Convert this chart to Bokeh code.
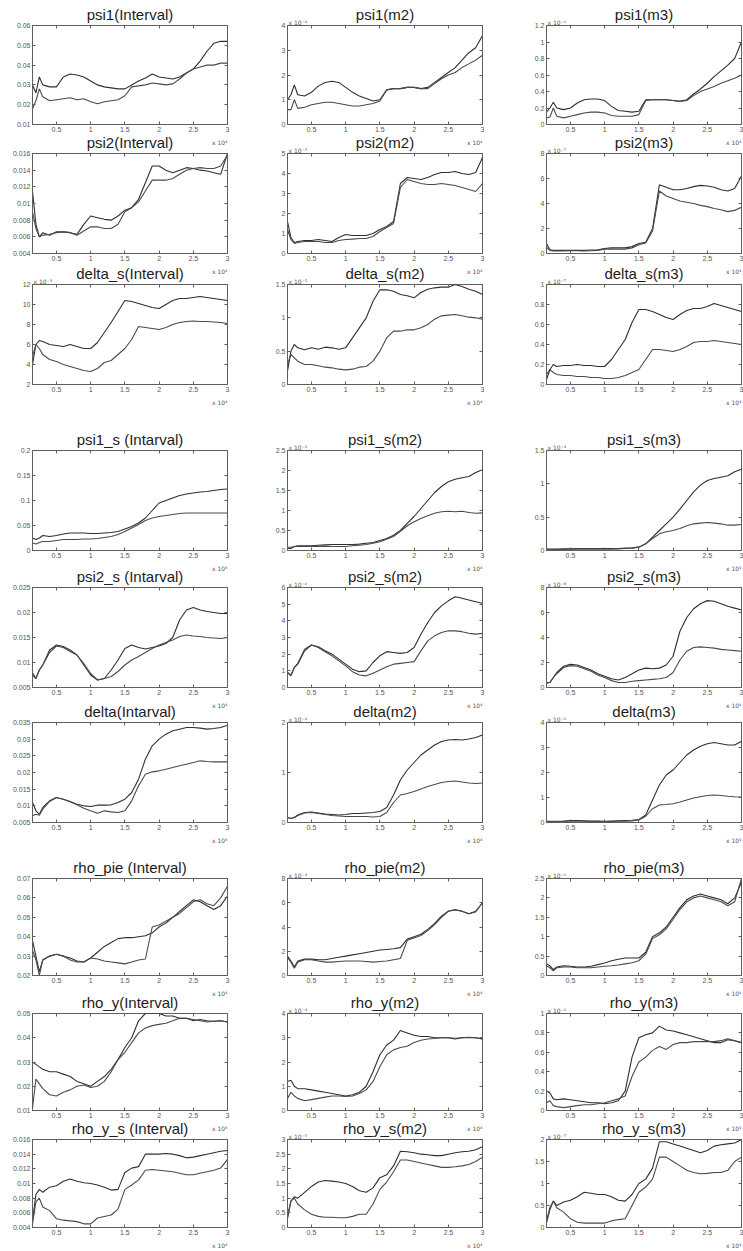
from bokeh.plotting import figure
from bokeh.models import (Range1d, FixedTicker, LinearAxis, Title,
                          CustomJSTickFormatter, GridBox)
from bokeh.embed import file_html
from bokeh.resources import INLINE

# Sample index, in units of 10^4 draws
X = [0.15, 0.2, 0.25, 0.3, 0.4, 0.5, 0.6, 0.7, 0.8, 0.9, 1.0, 1.1, 1.2, 1.3, 1.4,
     1.5, 1.6, 1.7, 1.8, 1.9, 2.0, 2.1, 2.2, 2.3, 2.4, 2.5, 2.6, 2.7, 2.8, 2.9, 3.0]
X_TICKS = [0.5, 1, 1.5, 2, 2.5, 3]

# ---- psi1 ----
psi1_int_a = [0.030, 0.026, 0.034, 0.030, 0.029, 0.029, 0.034, 0.0355, 0.035, 0.034, 0.032, 0.030, 0.029, 0.0285, 0.028, 0.028, 0.030, 0.032, 0.0335, 0.0355, 0.034, 0.0335, 0.033, 0.034, 0.036, 0.038, 0.042, 0.047, 0.051, 0.052, 0.052]
psi1_int_b = [0.018, 0.022, 0.028, 0.024, 0.022, 0.0225, 0.023, 0.0235, 0.0225, 0.023, 0.0215, 0.0205, 0.0215, 0.022, 0.0225, 0.0245, 0.029, 0.0295, 0.030, 0.031, 0.0305, 0.030, 0.0305, 0.033, 0.036, 0.038, 0.039, 0.040, 0.040, 0.041, 0.041]
psi1_m2_a = [1.0, 1.2, 1.6, 1.2, 1.15, 1.3, 1.55, 1.7, 1.75, 1.7, 1.5, 1.3, 1.15, 1.05, 0.95, 1.0, 1.4, 1.45, 1.45, 1.5, 1.5, 1.45, 1.5, 1.7, 1.9, 2.1, 2.3, 2.6, 2.9, 3.1, 3.6]
psi1_m2_b = [0.6, 0.6, 1.0, 0.65, 0.7, 0.8, 0.85, 0.9, 0.9, 0.85, 0.8, 0.75, 0.75, 0.8, 0.85, 0.95, 1.4, 1.45, 1.45, 1.5, 1.5, 1.45, 1.45, 1.65, 1.85, 2.0, 2.1, 2.3, 2.45, 2.6, 2.8]
psi1_m3_a = [0.15, 0.2, 0.27, 0.2, 0.18, 0.2, 0.26, 0.3, 0.31, 0.31, 0.29, 0.22, 0.17, 0.16, 0.15, 0.16, 0.3, 0.3, 0.3, 0.3, 0.29, 0.28, 0.3, 0.37, 0.43, 0.5, 0.58, 0.65, 0.72, 0.8, 1.0]
psi1_m3_b = [0.08, 0.09, 0.2, 0.1, 0.08, 0.1, 0.12, 0.14, 0.15, 0.15, 0.14, 0.11, 0.1, 0.1, 0.1, 0.12, 0.29, 0.3, 0.3, 0.3, 0.29, 0.28, 0.29, 0.35, 0.4, 0.43, 0.46, 0.5, 0.53, 0.56, 0.6]

# ---- psi2 ----
psi2_int_a = [0.0115, 0.0075, 0.006, 0.0065, 0.0062, 0.0066, 0.0066, 0.0065, 0.0063, 0.0075, 0.0085, 0.0083, 0.0081, 0.008, 0.0085, 0.0092, 0.0095, 0.0105, 0.0125, 0.0145, 0.0145, 0.014, 0.0137, 0.014, 0.0143, 0.0142, 0.014, 0.0139, 0.0137, 0.0135, 0.016]
psi2_int_b = [0.009, 0.007, 0.006, 0.0062, 0.0063, 0.0065, 0.0066, 0.0065, 0.0062, 0.0067, 0.0072, 0.0072, 0.007, 0.007, 0.0075, 0.009, 0.0095, 0.0102, 0.0115, 0.0128, 0.0128, 0.0128, 0.013, 0.0135, 0.014, 0.0142, 0.0143, 0.0142, 0.0142, 0.0145, 0.0158]
psi2_m2_a = [1.6, 0.8, 0.55, 0.6, 0.65, 0.65, 0.7, 0.65, 0.6, 0.8, 0.95, 0.9, 0.9, 0.9, 1.0, 1.2, 1.35, 1.6, 3.5, 3.8, 3.75, 3.7, 3.8, 3.95, 4.05, 4.05, 4.1, 4.0, 3.95, 4.05, 4.8]
psi2_m2_b = [1.2, 0.7, 0.5, 0.55, 0.6, 0.6, 0.6, 0.55, 0.55, 0.65, 0.7, 0.72, 0.75, 0.75, 0.85, 1.1, 1.3, 1.5, 3.3, 3.7, 3.6, 3.5, 3.45, 3.45, 3.5, 3.45, 3.4, 3.3, 3.2, 3.1, 3.5]
psi2_m3_a = [0.8, 0.3, 0.25, 0.25, 0.25, 0.25, 0.25, 0.25, 0.28, 0.3, 0.4, 0.45, 0.45, 0.45, 0.55, 0.8, 0.9, 2.0, 5.5, 5.3, 5.1, 5.1, 5.2, 5.35, 5.45, 5.4, 5.3, 5.1, 5.0, 5.2, 6.2]
psi2_m3_b = [0.5, 0.25, 0.2, 0.2, 0.2, 0.22, 0.22, 0.2, 0.22, 0.25, 0.35, 0.35, 0.35, 0.35, 0.45, 0.7, 0.85, 1.8, 5.0, 4.6, 4.4, 4.2, 4.1, 4.0, 3.85, 3.75, 3.6, 3.5, 3.35, 3.45, 3.7]

# ---- delta_s ----
dels_int_a = [4.0, 6.0, 6.4, 6.3, 6.0, 5.9, 5.8, 6.0, 5.8, 5.6, 5.6, 6.2, 7.2, 8.2, 9.3, 10.4, 10.3, 10.1, 9.9, 9.7, 9.6, 10.0, 10.4, 10.6, 10.6, 10.7, 10.8, 10.7, 10.6, 10.5, 10.4]
dels_int_b = [4.8, 6.0, 5.6, 5.0, 4.5, 4.3, 4.0, 3.8, 3.6, 3.4, 3.3, 3.6, 4.2, 4.4, 5.0, 5.6, 6.5, 7.8, 7.7, 7.6, 7.5, 7.7, 8.0, 8.2, 8.3, 8.35, 8.3, 8.3, 8.25, 8.2, 8.1]
dels_m2_a = [0.2, 0.5, 0.6, 0.55, 0.52, 0.55, 0.53, 0.56, 0.55, 0.53, 0.55, 0.7, 0.85, 1.0, 1.25, 1.42, 1.42, 1.4, 1.35, 1.33, 1.3, 1.38, 1.43, 1.45, 1.46, 1.46, 1.5, 1.47, 1.43, 1.4, 1.35]
dels_m2_b = [0.3, 0.45, 0.4, 0.35, 0.3, 0.3, 0.28, 0.26, 0.25, 0.23, 0.22, 0.23, 0.26, 0.27, 0.35, 0.5, 0.7, 0.8, 0.8, 0.82, 0.82, 0.85, 0.9, 0.98, 1.03, 1.04, 1.05, 1.03, 1.01, 1.0, 0.98]
dels_m3_a = [0.05, 0.15, 0.2, 0.18, 0.19, 0.19, 0.2, 0.19, 0.19, 0.18, 0.18, 0.25, 0.35, 0.45, 0.62, 0.75, 0.75, 0.73, 0.7, 0.67, 0.65, 0.7, 0.74, 0.76, 0.76, 0.78, 0.81, 0.79, 0.77, 0.75, 0.73]
dels_m3_b = [0.1, 0.15, 0.12, 0.1, 0.09, 0.09, 0.08, 0.08, 0.07, 0.07, 0.06, 0.06, 0.07, 0.09, 0.12, 0.15, 0.25, 0.35, 0.35, 0.34, 0.33, 0.35, 0.38, 0.42, 0.43, 0.43, 0.44, 0.43, 0.42, 0.41, 0.4]

# ---- psi1_s ----
psi1s_int_a = [0.025, 0.022, 0.025, 0.03, 0.028, 0.03, 0.033, 0.035, 0.035, 0.035, 0.034, 0.034, 0.035, 0.036, 0.038, 0.043, 0.048, 0.055, 0.065, 0.08, 0.095, 0.1, 0.105, 0.11, 0.113, 0.115, 0.117, 0.118, 0.12, 0.122, 0.123]
psi1s_int_b = [0.015, 0.013, 0.016, 0.018, 0.018, 0.02, 0.022, 0.022, 0.022, 0.023, 0.023, 0.024, 0.026, 0.028, 0.032, 0.038, 0.045, 0.052, 0.06, 0.065, 0.068, 0.07, 0.072, 0.074, 0.075, 0.075, 0.075, 0.075, 0.075, 0.075, 0.075]
psi1s_m2_a = [0.05, 0.05, 0.1, 0.12, 0.12, 0.12, 0.13, 0.14, 0.15, 0.15, 0.15, 0.15, 0.16, 0.18, 0.2, 0.25, 0.3, 0.38, 0.5, 0.68, 0.85, 1.05, 1.25, 1.45, 1.6, 1.72, 1.78, 1.82, 1.85, 1.95, 2.02]
psi1s_m2_b = [0.08, 0.08, 0.1, 0.1, 0.1, 0.1, 0.1, 0.11, 0.1, 0.1, 0.1, 0.12, 0.13, 0.15, 0.18, 0.22, 0.28, 0.35, 0.48, 0.62, 0.72, 0.8, 0.87, 0.93, 0.97, 0.98, 0.97, 0.98, 0.95, 0.93, 0.94]
psi1s_m3_a = [0.02, 0.02, 0.02, 0.02, 0.025, 0.025, 0.03, 0.03, 0.03, 0.03, 0.03, 0.03, 0.03, 0.035, 0.04, 0.05, 0.1, 0.2, 0.3, 0.4, 0.5, 0.62, 0.75, 0.88, 0.98, 1.05, 1.08, 1.1, 1.12, 1.18, 1.22]
psi1s_m3_b = [0.01, 0.01, 0.015, 0.015, 0.015, 0.02, 0.02, 0.02, 0.02, 0.02, 0.02, 0.02, 0.025, 0.03, 0.035, 0.05, 0.1, 0.18, 0.25, 0.28, 0.3, 0.33, 0.37, 0.4, 0.41, 0.42, 0.41, 0.4, 0.38, 0.38, 0.39]

# ---- psi2_s ----
psi2s_int_a = [0.0075, 0.0068, 0.0085, 0.0095, 0.0125, 0.0135, 0.0132, 0.0125, 0.0115, 0.0095, 0.0075, 0.0065, 0.0068, 0.0085, 0.0105, 0.0128, 0.0135, 0.013, 0.0127, 0.013, 0.0133, 0.0138, 0.015, 0.0185, 0.0205, 0.021, 0.0205, 0.0202, 0.02, 0.0198, 0.0198]
psi2s_int_b = [0.008, 0.0068, 0.0085, 0.0095, 0.012, 0.0133, 0.013, 0.0122, 0.0115, 0.0098, 0.0078, 0.0065, 0.0068, 0.0072, 0.0082, 0.0095, 0.0105, 0.0112, 0.012, 0.0128, 0.0135, 0.014, 0.0145, 0.0152, 0.0155, 0.0153, 0.0152, 0.015, 0.0149, 0.0148, 0.015]
psi2s_m2_a = [0.9, 0.75, 1.2, 1.4, 2.2, 2.55, 2.45, 2.2, 2.0, 1.7, 1.4, 1.1, 0.95, 1.0, 1.5, 1.9, 2.15, 2.1, 2.05, 2.1, 2.4, 3.2, 3.9, 4.5, 4.9, 5.2, 5.45, 5.35, 5.25, 5.15, 5.05]
psi2s_m2_b = [0.9, 0.7, 1.2, 1.45, 2.3, 2.55, 2.4, 2.15, 1.9, 1.6, 1.3, 0.95, 0.75, 0.7, 0.85, 1.05, 1.25, 1.4, 1.45, 1.5, 1.55, 2.2, 2.8, 3.1, 3.3, 3.4, 3.4, 3.35, 3.25, 3.2, 3.25]
psi2s_m3_a = [0.4, 0.4, 0.8, 1.2, 1.7, 1.85, 1.8, 1.6, 1.4, 1.1, 0.9, 0.7, 0.6, 0.8, 1.1, 1.4, 1.55, 1.5, 1.55, 1.8, 2.5, 4.5, 5.6, 6.3, 6.7, 6.95, 6.9, 6.7, 6.5, 6.35, 6.2]
psi2s_m3_b = [0.35, 0.4, 0.8, 1.1, 1.6, 1.75, 1.7, 1.5, 1.3, 1.0, 0.8, 0.55, 0.4, 0.4, 0.5, 0.55, 0.6, 0.65, 0.7, 0.8, 1.2, 2.2, 2.9, 3.2, 3.25, 3.2, 3.15, 3.05, 3.0, 2.95, 2.9]

# ---- delta ----
delta_int_a = [0.011, 0.0085, 0.0075, 0.0095, 0.0115, 0.0125, 0.012, 0.0113, 0.0105, 0.01, 0.0098, 0.0102, 0.0102, 0.0103, 0.011, 0.012, 0.014, 0.018, 0.024, 0.028, 0.03, 0.0315, 0.0325, 0.033, 0.0335, 0.0335, 0.0333, 0.033, 0.0332, 0.0335, 0.0342]
delta_int_b = [0.007, 0.0075, 0.0072, 0.009, 0.0113, 0.0125, 0.012, 0.0112, 0.0103, 0.0093, 0.0085, 0.0078, 0.0085, 0.0082, 0.008, 0.0085, 0.0115, 0.016, 0.0195, 0.0202, 0.0205, 0.021, 0.0215, 0.022, 0.0225, 0.023, 0.0235, 0.0233, 0.0232, 0.0232, 0.0232]
delta_m2_a = [0.1, 0.08, 0.1, 0.15, 0.2, 0.21, 0.19, 0.17, 0.16, 0.15, 0.16, 0.18, 0.18, 0.19, 0.2, 0.22, 0.3, 0.55, 0.85, 1.05, 1.2, 1.35, 1.45, 1.55, 1.62, 1.65, 1.66, 1.65, 1.67, 1.7, 1.75]
delta_m2_b = [0.1, 0.08, 0.1, 0.14, 0.19, 0.2, 0.18, 0.16, 0.14, 0.13, 0.12, 0.12, 0.12, 0.12, 0.11, 0.12, 0.2, 0.4, 0.55, 0.58, 0.62, 0.67, 0.72, 0.76, 0.8, 0.82, 0.83, 0.81, 0.79, 0.78, 0.79]
delta_m3_a = [0.05, 0.05, 0.05, 0.05, 0.06, 0.08, 0.08, 0.07, 0.06, 0.06, 0.05, 0.06, 0.07, 0.08, 0.09, 0.12, 0.3, 0.9, 1.5, 1.9, 2.1, 2.4, 2.7, 2.9, 3.05, 3.15, 3.2, 3.15, 3.1, 3.1, 3.25]
delta_m3_b = [0.03, 0.03, 0.03, 0.03, 0.04, 0.05, 0.05, 0.05, 0.04, 0.04, 0.04, 0.04, 0.05, 0.05, 0.06, 0.1, 0.25, 0.55, 0.7, 0.72, 0.75, 0.82, 0.9, 0.98, 1.03, 1.08, 1.1, 1.08, 1.05, 1.03, 1.02]

# ---- rho_pie ----
rhop_int_a = [0.038, 0.03, 0.022, 0.028, 0.03, 0.031, 0.03, 0.029, 0.0275, 0.027, 0.029, 0.032, 0.035, 0.037, 0.039, 0.0395, 0.0395, 0.04, 0.0405, 0.042, 0.045, 0.047, 0.05, 0.053, 0.056, 0.059, 0.058, 0.056, 0.054, 0.056, 0.061]
rhop_int_b = [0.033, 0.028, 0.02, 0.028, 0.03, 0.031, 0.03, 0.028, 0.027, 0.027, 0.029, 0.0285, 0.0275, 0.027, 0.0265, 0.026, 0.027, 0.028, 0.0285, 0.045, 0.046, 0.048, 0.05, 0.052, 0.055, 0.058, 0.059, 0.057, 0.056, 0.06, 0.066]
rhop_m2_a = [1.6, 1.2, 0.7, 1.2, 1.35, 1.35, 1.3, 1.3, 1.4, 1.5, 1.6, 1.7, 1.8, 1.9, 2.0, 2.1, 2.15, 2.2, 2.3, 3.0, 3.2, 3.4, 3.8, 4.3, 4.9, 5.3, 5.4, 5.3, 5.1, 5.3, 6.0]
rhop_m2_b = [1.5, 1.1, 0.6, 1.1, 1.3, 1.3, 1.2, 1.1, 1.1, 1.15, 1.2, 1.2, 1.2, 1.15, 1.1, 1.15, 1.2, 1.3, 1.4, 2.9, 3.1, 3.3, 3.7, 4.2, 4.8, 5.3, 5.45, 5.3, 5.1, 5.25, 6.0]
rhop_m3_a = [0.3, 0.25, 0.15, 0.22, 0.25, 0.24, 0.22, 0.22, 0.24, 0.28, 0.32, 0.38, 0.42, 0.45, 0.45, 0.45, 0.6, 1.0, 1.1, 1.25, 1.5, 1.75, 1.95, 2.05, 2.1, 2.05, 2.0, 1.95, 1.85, 2.0, 2.4]
rhop_m3_b = [0.25, 0.2, 0.12, 0.2, 0.22, 0.22, 0.2, 0.2, 0.2, 0.22, 0.24, 0.25, 0.27, 0.3, 0.33, 0.38, 0.55, 0.95, 1.05, 1.2, 1.45, 1.7, 1.9, 2.0, 2.05, 2.0, 1.95, 1.9, 1.8, 1.9, 2.5]

# ---- rho_y ----
rhoy_int_a = [0.03, 0.029, 0.028, 0.027, 0.026, 0.026, 0.025, 0.024, 0.022, 0.021, 0.02, 0.022, 0.024, 0.027, 0.031, 0.036, 0.04, 0.047, 0.05, 0.05, 0.05, 0.049, 0.049, 0.048, 0.048, 0.047, 0.0475, 0.047, 0.0468, 0.047, 0.0465]
rhoy_int_b = [0.011, 0.023, 0.021, 0.019, 0.0165, 0.016, 0.0175, 0.0185, 0.02, 0.0205, 0.0195, 0.02, 0.022, 0.026, 0.031, 0.034, 0.038, 0.042, 0.044, 0.045, 0.0455, 0.046, 0.047, 0.048, 0.048, 0.0475, 0.047, 0.0465, 0.0468, 0.047, 0.0465]
rhoy_m2_a = [1.2, 1.25, 1.0, 0.9, 0.9, 0.85, 0.8, 0.75, 0.7, 0.65, 0.6, 0.65, 0.75, 1.0, 1.6, 2.3, 2.7, 2.9, 3.3, 3.2, 3.1, 3.05, 3.05, 3.0, 3.0, 3.0, 2.95, 3.0, 3.0, 3.0, 2.95]
rhoy_m2_b = [0.5, 0.75, 0.6, 0.5, 0.4, 0.45, 0.5, 0.55, 0.6, 0.6, 0.58, 0.6, 0.7, 0.85, 1.2, 1.8, 2.3, 2.5, 2.6, 2.65, 2.8, 2.9, 2.95, 2.97, 3.0, 3.0, 2.98, 3.0, 3.02, 3.0, 2.95]
rhoy_m3_a = [0.2, 0.18, 0.12, 0.11, 0.12, 0.11, 0.1, 0.09, 0.08, 0.08, 0.07, 0.08, 0.1, 0.2, 0.55, 0.75, 0.78, 0.8, 0.87, 0.83, 0.82, 0.8, 0.78, 0.76, 0.74, 0.72, 0.7, 0.7, 0.73, 0.72, 0.7]
rhoy_m3_b = [0.08, 0.1, 0.05, 0.04, 0.03, 0.04, 0.05, 0.06, 0.06, 0.07, 0.08, 0.1, 0.12, 0.15, 0.35, 0.5, 0.55, 0.62, 0.66, 0.63, 0.68, 0.7, 0.7, 0.71, 0.71, 0.71, 0.71, 0.72, 0.74, 0.72, 0.7]

# ---- rho_y_s ----
rhoys_int_a = [0.005, 0.0085, 0.0092, 0.0088, 0.0095, 0.0097, 0.0103, 0.0106, 0.0103, 0.0101, 0.01, 0.0098, 0.0095, 0.0091, 0.0092, 0.0115, 0.0121, 0.0123, 0.014, 0.014, 0.014, 0.0141, 0.014, 0.0138, 0.0135, 0.0136, 0.0138, 0.014, 0.0142, 0.0144, 0.0145]
rhoys_int_b = [0.0045, 0.0075, 0.008, 0.0068, 0.0063, 0.0052, 0.005, 0.0049, 0.0048, 0.0045, 0.0045, 0.0053, 0.0055, 0.0057, 0.0065, 0.0092, 0.0098, 0.0105, 0.0118, 0.0119, 0.0118, 0.0117, 0.0116, 0.0114, 0.0112, 0.0112, 0.0114, 0.0116, 0.0118, 0.0121, 0.0133]
rhoys_m2_a = [0.3, 0.9, 1.05, 1.0, 1.2, 1.4, 1.55, 1.6, 1.58, 1.55, 1.5, 1.4, 1.25, 1.2, 1.35, 1.7, 1.8, 2.1, 2.6, 2.58, 2.55, 2.5, 2.48, 2.45, 2.45, 2.5, 2.55, 2.58, 2.6, 2.65, 2.75]
rhoys_m2_b = [0.4, 0.9, 1.0, 0.8, 0.6, 0.45, 0.38, 0.35, 0.35, 0.33, 0.33, 0.38, 0.45, 0.45, 0.8, 1.3, 1.55, 1.9, 2.3, 2.3, 2.25, 2.2, 2.15, 2.1, 2.05, 2.05, 2.07, 2.1, 2.15, 2.25, 2.4]
rhoys_m3_a = [0.15, 0.45, 0.6, 0.5, 0.58, 0.62, 0.7, 0.8, 0.78, 0.75, 0.75, 0.7, 0.62, 0.6, 0.75, 1.0, 1.1, 1.35, 1.95, 1.95, 1.9, 1.85, 1.8, 1.75, 1.7, 1.75, 1.85, 1.88, 1.9, 1.92, 2.0]
rhoys_m3_b = [0.1, 0.4, 0.6, 0.45, 0.35, 0.2, 0.12, 0.1, 0.1, 0.1, 0.1, 0.15, 0.18, 0.2, 0.5, 0.8, 0.92, 1.1, 1.6, 1.6, 1.5, 1.4, 1.3, 1.25, 1.22, 1.23, 1.25, 1.25, 1.3, 1.5, 1.6]

# (title, series A, series B, y tick values, power of ten of the y axis)
PANELS = [
    ("psi1(Interval)", psi1_int_a, psi1_int_b, [0.01, 0.02, 0.03, 0.04, 0.05, 0.06], None),
    ("psi1(m2)", psi1_m2_a, psi1_m2_b, [0, 1, 2, 3, 4], -4),
    ("psi1(m3)", psi1_m3_a, psi1_m3_b, [0, 0.2, 0.4, 0.6, 0.8, 1, 1.2], -6),
    ("psi2(Interval)", psi2_int_a, psi2_int_b, [0.004, 0.006, 0.008, 0.01, 0.012, 0.014, 0.016], None),
    ("psi2(m2)", psi2_m2_a, psi2_m2_b, [0, 1, 2, 3, 4, 5], -5),
    ("psi2(m3)", psi2_m3_a, psi2_m3_b, [0, 2, 4, 6, 8], -7),
    ("delta_s(Interval)", dels_int_a, dels_int_b, [2, 4, 6, 8, 10, 12], -3),
    ("delta_s(m2)", dels_m2_a, dels_m2_b, [0, 0.5, 1, 1.5], -5),
    ("delta_s(m3)", dels_m3_a, dels_m3_b, [0, 0.2, 0.4, 0.6, 0.8, 1], -7),
    ("psi1_s (Intarval)", psi1s_int_a, psi1s_int_b, [0, 0.05, 0.1, 0.15, 0.2], None),
    ("psi1_s(m2)", psi1s_m2_a, psi1s_m2_b, [0, 0.5, 1, 1.5, 2, 2.5], -3),
    ("psi1_s(m3)", psi1s_m3_a, psi1s_m3_b, [0, 0.5, 1, 1.5], -4),
    ("psi2_s (Intarval)", psi2s_int_a, psi2s_int_b, [0.005, 0.01, 0.015, 0.02, 0.025], None),
    ("psi2_s(m2)", psi2s_m2_a, psi2s_m2_b, [0, 1, 2, 3, 4, 5, 6], -6),
    ("psi2_s(m3)", psi2s_m3_a, psi2s_m3_b, [0, 2, 4, 6, 8], -8),
    ("delta(Intarval)", delta_int_a, delta_int_b, [0.005, 0.01, 0.015, 0.02, 0.025, 0.03, 0.035], None),
    ("delta(m2)", delta_m2_a, delta_m2_b, [0, 1, 2], -4),
    ("delta(m3)", delta_m3_a, delta_m3_b, [0, 1, 2, 3, 4], -6),
    ("rho_pie (Interval)", rhop_int_a, rhop_int_b, [0.02, 0.03, 0.04, 0.05, 0.06, 0.07], None),
    ("rho_pie(m2)", rhop_m2_a, rhop_m2_b, [0, 2, 4, 6, 8], -4),
    ("rho_pie(m3)", rhop_m3_a, rhop_m3_b, [0, 0.5, 1, 1.5, 2, 2.5], -6),
    ("rho_y(Interval)", rhoy_int_a, rhoy_int_b, [0.01, 0.02, 0.03, 0.04, 0.05], None),
    ("rho_y(m2)", rhoy_m2_a, rhoy_m2_b, [0, 1, 2, 3, 4], -4),
    ("rho_y(m3)", rhoy_m3_a, rhoy_m3_b, [0, 0.2, 0.4, 0.6, 0.8, 1], -6),
    ("rho_y_s (Interval)", rhoys_int_a, rhoys_int_b, [0.004, 0.006, 0.008, 0.01, 0.012, 0.014, 0.016], None),
    ("rho_y_s(m2)", rhoys_m2_a, rhoys_m2_b, [0, 0.5, 1, 1.5, 2, 2.5, 3], -5),
    ("rho_y_s(m3)", rhoys_m3_a, rhoys_m3_b, [0, 0.5, 1, 1.5, 2], -7),
]

# Page geometry (pixels)
PAGE_H = 1251
COL_W = [255, 256, 232]
COL_LEFT = [32, 32, 35]
FRAME_W = 195
ROW_TOP = [25, 153, 284, 450, 587, 722, 878, 1013, 1139]
ROW_H = [99, 100, 100, 100, 100, 100, 97, 97, 88]

FONT = "Liberation Sans"
AXIS_GREY = "#5e5e5e"
LABEL_GREY = "#555555"
LINE_COLORS = ["#2f2f2f", "#4a4a4a"]

SUP = str.maketrans("-0123456789", "\u207b\u2070\u00b9\u00b2\u00b3\u2074\u2075\u2076\u2077\u2078\u2079")


def power_text(e):
    return "x 10" + str(e).translate(SUP)


def tick_formatter():
    return CustomJSTickFormatter(code="return String(parseFloat(tick.toFixed(6)));")


def style_axis(ax, show_labels):
    ax.axis_line_color = AXIS_GREY if show_labels else None
    ax.major_tick_line_color = AXIS_GREY
    ax.major_tick_in = 3
    ax.major_tick_out = 0
    ax.minor_tick_line_color = None
    ax.major_label_text_font = FONT
    if show_labels:
        ax.major_label_text_color = LABEL_GREY
        ax.major_label_text_font_size = "7px"
        ax.major_label_standoff = 2
    else:
        # mirrored tick marks only, as on a boxed axes
        ax.major_label_text_color = None
        ax.major_label_text_font_size = "0px"
        ax.major_label_standoff = 0


def make_panel(idx, spec):
    title, ser_a, ser_b, yticks, ypow = spec
    r, c = divmod(idx, 3)
    top = min(28, ROW_TOP[r])
    fig_top = ROW_TOP[r] - top
    fig_bottom = min(ROW_TOP[r] + ROW_H[r] + 24, PAGE_H)
    height = fig_bottom - fig_top
    bottom = fig_bottom - ROW_TOP[r] - ROW_H[r]
    left = COL_LEFT[c]
    right = COL_W[c] - left - FRAME_W

    p = figure(width=COL_W[c], height=height,
               x_range=Range1d(X[0], X[-1]),
               y_range=Range1d(yticks[0], yticks[-1]),
               output_backend="svg", toolbar_location=None,
               title_location=None,
               min_border_left=left, min_border_right=right,
               min_border_top=top, min_border_bottom=bottom)
    p.border_fill_color = None
    p.background_fill_color = "white"
    p.outline_line_color = AXIS_GREY
    p.outline_line_width = 1
    p.xgrid.visible = False
    p.ygrid.visible = False

    p.xaxis.ticker = FixedTicker(ticks=X_TICKS)
    p.xaxis.formatter = tick_formatter()
    p.yaxis.ticker = FixedTicker(ticks=yticks)
    p.yaxis.formatter = tick_formatter()
    style_axis(p.xaxis[0], True)
    style_axis(p.yaxis[0], True)

    top_axis = LinearAxis(ticker=FixedTicker(ticks=X_TICKS))
    style_axis(top_axis, False)
    p.add_layout(top_axis, "above")
    right_axis = LinearAxis(ticker=FixedTicker(ticks=yticks))
    style_axis(right_axis, False)
    p.add_layout(right_axis, "right")

    p.line(X, ser_a, line_color=LINE_COLORS[0], line_width=1.1)
    p.line(X, ser_b, line_color=LINE_COLORS[1], line_width=1.1)

    # power-of-ten note of the y axis, just above the top-left corner
    if ypow is not None:
        p.add_layout(Title(text=power_text(ypow), align="left", offset=1,
                           standoff=0, text_font="DejaVu Sans",
                           text_font_size="6px", text_font_style="normal",
                           text_color=LABEL_GREY), "above")
        title_standoff = -13
    else:
        title_standoff = 5
    p.add_layout(Title(text=title, align="center", standoff=title_standoff,
                       text_font=FONT, text_font_size="15px",
                       text_font_style="normal", text_color="#1c1c1c"),
                 "above")
    # power-of-ten note of the x axis, below the tick labels at the right
    p.add_layout(Title(text=power_text(4), align="right", standoff=4,
                       text_font="DejaVu Sans", text_font_size="6px",
                       text_font_style="normal", text_color=LABEL_GREY),
                 "below")
    return p, fig_top, c, height


children = []
for i, spec in enumerate(PANELS):
    fig, row_start, col, span = make_panel(i, spec)
    children.append((fig, row_start, col, span, 1))

grid = GridBox(children=children, rows="1px",
               cols=[f"{w}px" for w in COL_W], spacing=0)

with open("out.html", "w") as f:
    f.write(file_html(grid, INLINE, title="Posterior paths"))
